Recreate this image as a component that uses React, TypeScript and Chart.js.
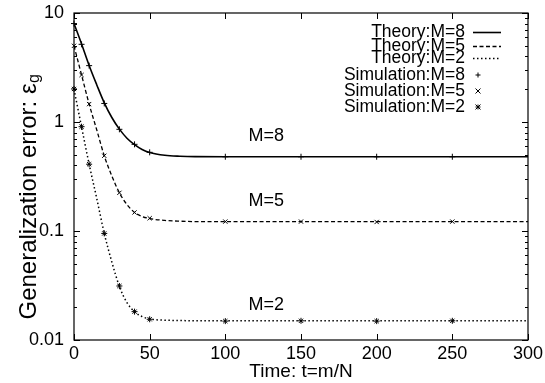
import React, { useEffect, useRef } from "react";
import { Chart, registerables } from "chart.js";

Chart.register(...registerables);

const FONT = '"Liberation Sans", Arial, Helvetica, sans-serif';

// Theory curves
const theoryTimes = [0, 5, 10, 15, 20, 25, 30, 35, 40, 45, 50, 60, 70, 80, 100, 300];
const theoryM8 = [8.0, 5.2, 3.3, 2.2, 1.5, 1.1, 0.86, 0.71, 0.62, 0.56, 0.525, 0.495, 0.485, 0.481, 0.48, 0.48];
const theoryM5 = [5.0, 2.7, 1.46, 0.85, 0.49, 0.32, 0.224, 0.175, 0.148, 0.136, 0.13, 0.125, 0.123, 0.122, 0.1217, 0.1217];
const theoryM2 = [2.0, 0.9, 0.41, 0.2, 0.095, 0.052, 0.031, 0.022, 0.0182, 0.0164, 0.0156, 0.0152, 0.0151, 0.015, 0.01503, 0.01503];

// Simulation points
const simTimes = [0, 5, 10, 20, 30, 40, 50, 100, 150, 200, 250];
const simM8 = [8.0, 5.16, 3.29, 1.48, 0.857, 0.624, 0.527, 0.48, 0.48, 0.48, 0.48];
const simM5 = [5.0, 2.7, 1.46, 0.49, 0.224, 0.148, 0.131, 0.122, 0.122, 0.121, 0.122];
const simM2 = [2.01, 0.906, 0.41, 0.095, 0.0313, 0.0182, 0.0155, 0.0149, 0.015, 0.0149, 0.015];

// Axes
const xTicks = [0, 50, 100, 150, 200, 250, 300];
const yTicks = [0.01, 0.1, 1, 10];
const yMinorTicks = [
  0.02, 0.03, 0.04, 0.05, 0.06, 0.07, 0.08, 0.09,
  0.2, 0.3, 0.4, 0.5, 0.6, 0.7, 0.8, 0.9,
  2, 3, 4, 5, 6, 7, 8, 9,
];

// Legend and annotations
const legendLabels = [
  "Theory:M=8", "Theory:M=5", "Theory:M=2",
  "Simulation:M=8", "Simulation:M=5", "Simulation:M=2",
];
const annotationLabels = ["M=8", "M=5", "M=2"];
const annotationX = [127, 127, 127];
const annotationY = [0.75, 0.19, 0.021];

const xTitle = "Time: t=m/N";
const yTitleMain = "Generalization error: ε";
const yTitleSub = "g";

const toPts = (xs: number[], ys: number[]) => xs.map((x, i) => ({ x, y: ys[i] }));

export default function App() {
  const ref = useRef<HTMLCanvasElement | null>(null);

  useEffect(() => {
    document.body.style.margin = "0";
    const canvas = ref.current;
    if (!canvas) return;

    const framePlugin = {
      id: "frame",
      afterDatasetsDraw(chart: any) {
        const { ctx, chartArea } = chart;
        const { left, right, top, bottom } = chartArea;
        const xs = chart.scales.x;
        const ys = chart.scales.y;
        ctx.save();
        ctx.strokeStyle = "#000";
        ctx.lineWidth = 1.2;
        ctx.strokeRect(left, top, right - left, bottom - top);
        ctx.lineWidth = 1;
        ctx.beginPath();
        xTicks.forEach((v) => {
          const px = Math.round(xs.getPixelForValue(v)) + 0.5;
          ctx.moveTo(px, bottom);
          ctx.lineTo(px, bottom - 6);
          ctx.moveTo(px, top);
          ctx.lineTo(px, top + 6);
        });
        yTicks.forEach((v) => {
          const py = Math.round(ys.getPixelForValue(v)) + 0.5;
          ctx.moveTo(left, py);
          ctx.lineTo(left + 6, py);
          ctx.moveTo(right, py);
          ctx.lineTo(right - 6, py);
        });
        yMinorTicks.forEach((v) => {
          const py = Math.round(ys.getPixelForValue(v)) + 0.5;
          ctx.moveTo(left, py);
          ctx.lineTo(left + 3, py);
          ctx.moveTo(right, py);
          ctx.lineTo(right - 3, py);
        });
        ctx.stroke();

        // annotations
        ctx.fillStyle = "#000";
        ctx.font = `18px ${FONT}`;
        ctx.textAlign = "center";
        ctx.textBaseline = "middle";
        annotationLabels.forEach((t, i) => {
          ctx.fillText(t, xs.getPixelForValue(annotationX[i]), ys.getPixelForValue(annotationY[i]));
        });

        // legend
        const rowY = [32, 46, 58, 75, 91, 107];
        const textRight = 465;
        ctx.textAlign = "right";
        ctx.font = `17.5px ${FONT}`;
        legendLabels.forEach((t, i) => {
          ctx.fillText(t, textRight, rowY[i]);
        });
        const dashes = [[], [4, 2.5], [1.5, 2.5]];
        const widths = [1.6, 1.3, 1.5];
        for (let i = 0; i < 3; i++) {
          ctx.beginPath();
          ctx.setLineDash(dashes[i]);
          ctx.lineWidth = widths[i];
          ctx.moveTo(473, rowY[i] + 0.5);
          ctx.lineTo(501, rowY[i] + 0.5);
          ctx.stroke();
        }
        ctx.setLineDash([]);
        ctx.lineWidth = 1;
        const sx = 478;
        const r = 2.5;
        ctx.beginPath();
        ctx.moveTo(sx - r, rowY[3]); ctx.lineTo(sx + r, rowY[3]);
        ctx.moveTo(sx, rowY[3] - r); ctx.lineTo(sx, rowY[3] + r);
        ctx.moveTo(sx - r, rowY[4] - r); ctx.lineTo(sx + r, rowY[4] + r);
        ctx.moveTo(sx - r, rowY[4] + r); ctx.lineTo(sx + r, rowY[4] - r);
        ctx.moveTo(sx - r, rowY[5]); ctx.lineTo(sx + r, rowY[5]);
        ctx.moveTo(sx, rowY[5] - r); ctx.lineTo(sx, rowY[5] + r);
        ctx.moveTo(sx - r, rowY[5] - r); ctx.lineTo(sx + r, rowY[5] + r);
        ctx.moveTo(sx - r, rowY[5] + r); ctx.lineTo(sx + r, rowY[5] - r);
        ctx.stroke();

        // y title with subscript
        ctx.save();
        ctx.translate(29, 197);
        ctx.rotate(-Math.PI / 2);
        ctx.font = `24px ${FONT}`;
        const w1 = ctx.measureText(yTitleMain).width;
        ctx.font = `16px ${FONT}`;
        const w2 = ctx.measureText(yTitleSub).width;
        const start = -(w1 + w2) / 2;
        ctx.textAlign = "left";
        ctx.textBaseline = "middle";
        ctx.font = `24px ${FONT}`;
        ctx.fillText(yTitleMain, start, 0);
        ctx.font = `16px ${FONT}`;
        ctx.fillText(yTitleSub, start + w1 + 0.5, 6);
        ctx.restore();

        ctx.restore();
      },
    };

    const chart = new Chart(canvas, {
      type: "scatter",
      data: {
        datasets: [
          {
            label: legendLabels[0],
            data: toPts(theoryTimes, theoryM8),
            showLine: true,
            borderColor: "#000",
            borderWidth: 1.6,
            pointRadius: 0,
            cubicInterpolationMode: "monotone",
          },
          {
            label: legendLabels[1],
            data: toPts(theoryTimes, theoryM5),
            showLine: true,
            borderColor: "#000",
            borderWidth: 1.3,
            borderDash: [4, 2.5],
            pointRadius: 0,
            cubicInterpolationMode: "monotone",
          },
          {
            label: legendLabels[2],
            data: toPts(theoryTimes, theoryM2),
            showLine: true,
            borderColor: "#000",
            borderWidth: 1.5,
            borderDash: [1.5, 2.5],
            pointRadius: 0,
            cubicInterpolationMode: "monotone",
          },
          {
            label: legendLabels[3],
            data: toPts(simTimes, simM8),
            pointStyle: "cross",
            pointRadius: 3,
            pointBorderColor: "#000",
            pointBorderWidth: 1,
            showLine: false,
            clip: false as any,
          },
          {
            label: legendLabels[4],
            data: toPts(simTimes, simM5),
            pointStyle: "crossRot",
            pointRadius: 3,
            pointBorderColor: "#000",
            pointBorderWidth: 1,
            showLine: false,
            clip: false as any,
          },
          {
            label: legendLabels[5],
            data: toPts(simTimes, simM2),
            pointStyle: "star",
            pointRadius: 3,
            pointBorderColor: "#000",
            pointBorderWidth: 1,
            showLine: false,
            clip: false as any,
          },
        ],
      },
      options: {
        animation: false,
        responsive: false,
        devicePixelRatio: 1,
        layout: { padding: { top: 13, right: 17, left: 0, bottom: 0 } },
        plugins: { legend: { display: false }, tooltip: { enabled: false } },
        scales: {
          x: {
            type: "linear",
            min: 0,
            max: 300,
            grid: { display: false },
            border: { display: false },
            afterBuildTicks: (s: any) => {
              s.ticks = xTicks.map((value) => ({ value }));
            },
            afterFit: (s: any) => {
              s.height = 43;
            },
            ticks: {
              color: "#000",
              font: { family: FONT, size: 18 },
              padding: -5,
              maxRotation: 0,
              autoSkip: false,
            },
            title: {
              display: true,
              text: xTitle,
              color: "#000",
              font: { family: FONT, size: 19 },
              padding: { top: 0, bottom: 0 },
            },
          },
          y: {
            type: "logarithmic",
            min: 0.01,
            max: 10,
            grid: { display: false },
            border: { display: false },
            afterBuildTicks: (s: any) => {
              s.ticks = yTicks.map((value) => ({ value }));
            },
            afterFit: (s: any) => {
              s.width = 74;
            },
            ticks: {
              color: "#000",
              font: { family: FONT, size: 18 },
              padding: 2,
              autoSkip: false,
              callback: (v: any) => String(v),
            },
          },
        },
      },
      plugins: [framePlugin],
    } as any);

    return () => chart.destroy();
  }, []);

  return (
    <div style={{ position: "fixed", left: 0, top: 0, width: 545, height: 383, background: "#fff" }}>
      <canvas ref={ref} width={545} height={383} style={{ width: 545, height: 383 }} />
    </div>
  );
}
